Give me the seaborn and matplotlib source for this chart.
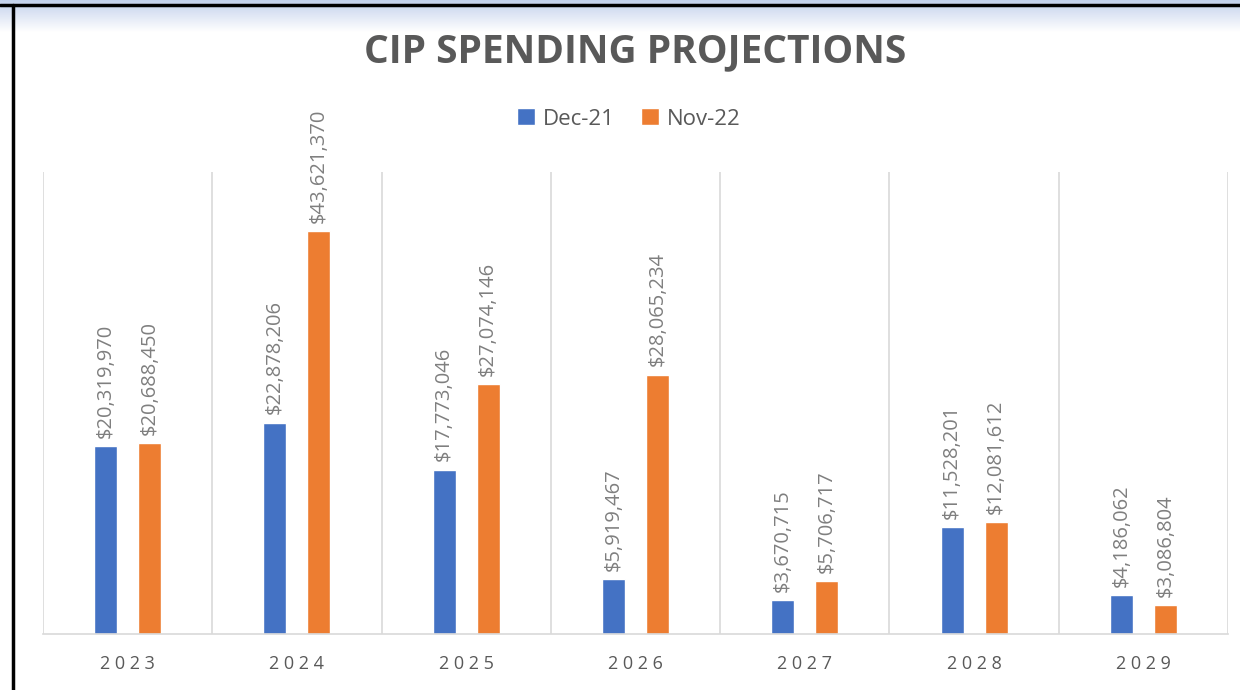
import numpy as np
import pandas as pd
import matplotlib
matplotlib.use("Agg")
import matplotlib.pyplot as plt
import seaborn as sns

#####----- DATA
years = ["2023", "2024", "2025", "2026", "2027", "2028", "2029"]
series_names = ["Dec-21", "Nov-22"]
dec21 = [20319970, 22878206, 17773046, 5919467, 3670715, 11528201, 4186062]
nov22 = [20688450, 43621370, 27074146, 28065234, 5706717, 12081612, 3086804]
colors = ["#4472C4", "#ED7D31"]

df = pd.DataFrame({
    "year": years * 2,
    "series": [series_names[0]] * len(years) + [series_names[1]] * len(years),
    "value": dec21 + nov22,
})

#####----- PLOT
sns.set_style("white")
plt.rcParams["font.family"] = ["Open Sans", "DejaVu Sans"]

fig = plt.figure(figsize=(12.4, 6.9), dpi=100)

# light blue gradient strip along the top, plus the black frame edges
bg = fig.add_axes([0, 0, 1, 1], zorder=-5)
grad = np.linspace(0, 1, 256).reshape(-1, 1)
cmap = matplotlib.colors.LinearSegmentedColormap.from_list("g", ["#c3d1ec", "#ffffff"])
bg.imshow(grad, aspect="auto", cmap=cmap, extent=[0, 1, 1 - 32 / 690, 1], transform=bg.transAxes)
bg.set_xlim(0, 1)
bg.set_ylim(0, 1)
bg.axis("off")
bg.plot([0, 1], [1 - 5 / 690, 1 - 5 / 690], color="black", lw=2.5, transform=bg.transAxes)
bg.plot([13 / 1240, 13 / 1240], [0, 1 - 5 / 690], color="black", lw=2.5, transform=bg.transAxes)

ax = fig.add_axes([43 / 1240, 56 / 690, 1185 / 1240, 462 / 690])
sns.barplot(data=df, x="year", y="value", hue="series", palette=colors, saturation=1,
            width=0.52, gap=0.48, ax=ax, legend=True)

for cont in ax.containers:
    ax.bar_label(cont, fmt="${:,.0f}", rotation=90, padding=6,
                 color="#7f7f7f", fontsize=14.5)

ax.set_ylim(0, 50000000)
ax.set_xlim(-0.5, len(years) - 0.5)
ax.set_yticks([])
ax.set_xlabel("")
ax.set_ylabel("")
ax.set_xticks(np.arange(-0.5, len(years)), minor=True)
ax.grid(axis="x", which="minor", color="#d9d9d9", lw=1.2)
ax.grid(axis="x", which="major", visible=False)
ax.tick_params(axis="x", which="both", length=0, pad=15, labelsize=13, labelcolor="#595959")
ax.set_xticks(range(len(years)))
ax.set_xticklabels([" ".join(y) for y in years])
for s in ["top", "left", "right"]:
    ax.spines[s].set_visible(False)
ax.spines["bottom"].set_color("#d9d9d9")
ax.spines["bottom"].set_linewidth(1.2)

ax.legend(loc="center", bbox_to_anchor=(0.507, 1 - 119 / 690), bbox_transform=fig.transFigure,
          ncol=2, frameon=False, fontsize=16, handlelength=0.8, handleheight=0.8,
          handletextpad=0.35, columnspacing=1.2, labelcolor="#595959")

fig.text(0.512, 1 - 52 / 690, "CIP SPENDING PROJECTIONS", ha="center", va="center",
         fontsize=28, fontweight="bold", color="#595959")

fig.savefig("out.png", dpi=100)
